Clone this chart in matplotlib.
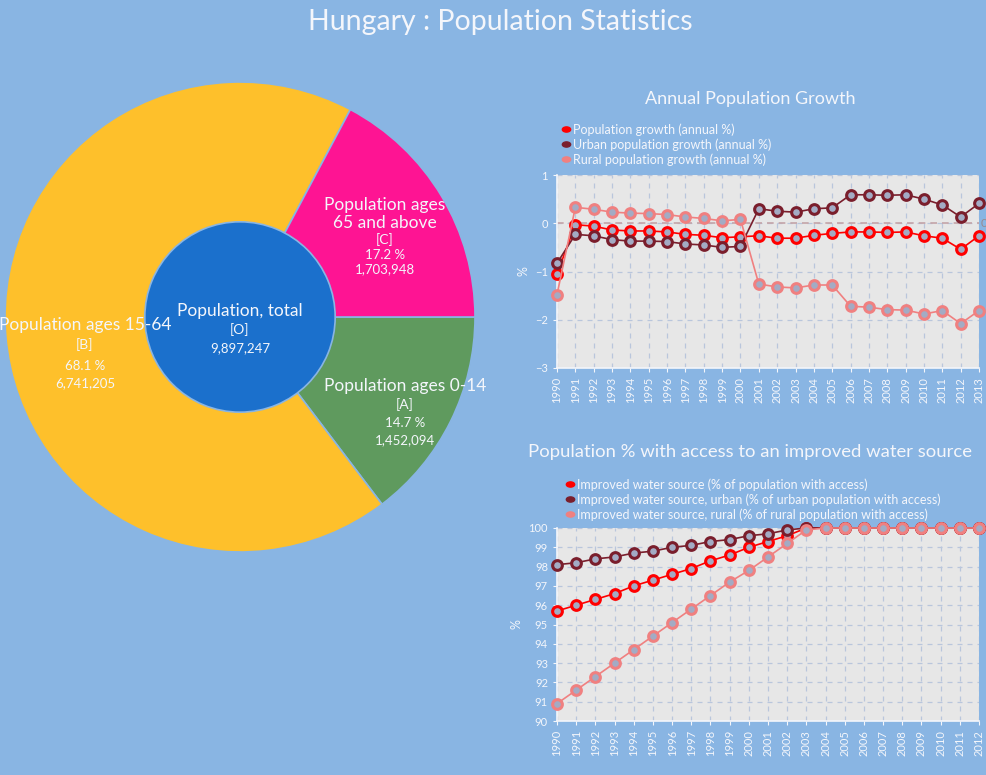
import numpy as np
import matplotlib
matplotlib.use("Agg")
import matplotlib.pyplot as plt
from matplotlib.path import Path
from matplotlib.transforms import Affine2D

plt.rcParams['font.family'] = ['Lato', 'DejaVu Sans']

BG = '#89b5e3'
WHITE = '#f4f6fb'

# --- pie data ---
pie_names = ['Population ages 0-14', 'Population ages 15-64', 'Population ages\n65 and above']
pie_codes = ['[A]', '[B]', '[C]']
pie_values = [1452094, 6741205, 1703948]
pie_colors = ['#5f9a5e', '#fec02b', '#fe1493']
total_name = 'Population, total'
total_value = 9897247

# --- annual growth ---
years_growth = list(range(1990, 2014))
pop_growth = [-1.05, -0.03, -0.06, -0.14, -0.16, -0.16, -0.18, -0.23, -0.25, -0.30, -0.28, -0.26,
              -0.31, -0.31, -0.25, -0.21, -0.18, -0.18, -0.19, -0.18, -0.26, -0.31, -0.54, -0.26]
urban_growth = [-0.83, -0.23, -0.26, -0.34, -0.37, -0.37, -0.38, -0.43, -0.45, -0.50, -0.48, 0.30,
                0.25, 0.23, 0.30, 0.32, 0.59, 0.59, 0.58, 0.59, 0.50, 0.38, 0.13, 0.41]
rural_growth = [-1.48, 0.33, 0.29, 0.23, 0.21, 0.20, 0.18, 0.13, 0.10, 0.05, 0.08, -1.26,
                -1.32, -1.34, -1.28, -1.28, -1.72, -1.74, -1.79, -1.80, -1.88, -1.81, -2.08, -1.81]

# --- water source ---
years_water = list(range(1990, 2013))
water_total = [95.7, 96.0, 96.3, 96.6, 97.0, 97.3, 97.6, 97.9, 98.3, 98.6, 99.0, 99.3,
               99.6, 100, 100, 100, 100, 100, 100, 100, 100, 100, 100]
water_urban = [98.1, 98.2, 98.4, 98.5, 98.7, 98.8, 99.0, 99.1, 99.3, 99.4, 99.6, 99.7,
               99.9, 100, 100, 100, 100, 100, 100, 100, 100, 100, 100]
water_rural = [90.9, 91.6, 92.3, 93.0, 93.7, 94.4, 95.1, 95.8, 96.5, 97.2, 97.8, 98.5,
               99.2, 99.9, 100, 100, 100, 100, 100, 100, 100, 100, 100]

line_colors = ['#ff0000', '#7a1e2c', '#f08080']
marker_face = '#a3abc4'

fig = plt.figure(figsize=(9.87, 7.75), dpi=100, facecolor=BG)
fig.text(0.507, 0.972, 'Hungary : Population Statistics', ha='center', va='center',
         fontsize=20.5, color=WHITE)

# ---------------- donut ----------------
axp = fig.add_axes([5 / 987, 1 - 552 / 775, 470 / 987, 470 / 775])
axp.axis('off')
wedges, _ = axp.pie(pie_values, colors=pie_colors, startangle=0, counterclock=False,
                    radius=1.0, wedgeprops=dict(edgecolor=BG, linewidth=1.2))
axp.pie([total_value], colors=['#1b70cc'], radius=0.405,
        wedgeprops=dict(edgecolor=BG, linewidth=1.2))
axp.set_xlim(-1, 1)
axp.set_ylim(-1, 1)
axp.set_aspect('equal')

# label anchor and offsets (title, code, pct, value) in axes data units
label_pos = [(0.702, -0.294), (-0.66, -0.034), (0.617, 0.438)]
label_offs = [(0.077, 0.158, 0.23), (0.085, 0.174, 0.246), (0.11, 0.174, 0.234)]
for name, code, v, (lx, ly), (o1, o2, o3) in zip(pie_names, pie_codes, pie_values,
                                                  label_pos, label_offs):
    pct = 100 * v / total_value
    axp.text(lx, ly, name, ha='center', va='center', fontsize=12.5, color=WHITE,
             linespacing=1.2, clip_on=False)
    axp.text(lx, ly - o1, code, ha='center', va='center', fontsize=10, color=WHITE)
    axp.text(lx, ly - o2, f'{pct:.1f} %', ha='center', va='center', fontsize=9.5, color=WHITE)
    axp.text(lx, ly - o3, f'{v:,}', ha='center', va='center', fontsize=9.5, color=WHITE)

axp.text(0, 0.026, total_name, ha='center', va='center', fontsize=12.5, color=WHITE)
axp.text(0, -0.055, '[O]', ha='center', va='center', fontsize=10, color=WHITE)
axp.text(0, -0.132, f'{total_value:,}', ha='center', va='center', fontsize=9.5, color=WHITE)

# ---------------- line charts ----------------
ell = Path.unit_circle().transformed(Affine2D().scale(1.6, 1.0))


def style_axes(ax):
    ax.set_facecolor('#e7e7e7')
    for s in ['top', 'right']:
        ax.spines[s].set_visible(False)
    for s in ['left', 'bottom']:
        ax.spines[s].set_color(WHITE)
        ax.spines[s].set_linewidth(1.2)
    ax.tick_params(colors=WHITE, labelsize=8, length=3, width=0.8)
    ax.grid(True, color='#b9c6dc', linestyle=(0, (4, 4)), linewidth=0.9)
    ax.set_axisbelow(True)
    ax.set_ylabel('%', color=WHITE, fontsize=9)


def draw_lines(ax, x, series):
    for ys, c in zip(series, line_colors):
        ax.plot(x, ys, color=c, linewidth=1.2, marker='o', markersize=7,
                markerfacecolor=marker_face, markeredgecolor=c, markeredgewidth=2.2,
                clip_on=False, zorder=3)
    return [plt.Line2D([], [], linestyle='none', marker=ell, markersize=6, color=c)
            for c in line_colors]


# Annual growth
ax1 = fig.add_axes([557 / 987, 1 - 368 / 775, 422 / 987, 193 / 775])
style_axes(ax1)
labels1 = ['Population growth (annual %)', 'Urban population growth (annual %)',
           'Rural population growth (annual %)']
ax1.axhline(0, color='#c4a4a8', linestyle=(0, (4, 3)), linewidth=1.2, zorder=2)
h1 = draw_lines(ax1, years_growth, [pop_growth, urban_growth, rural_growth])
ax1.set_xlim(1990, 2013)
ax1.set_ylim(-3, 1)
ax1.set_yticks([-3, -2, -1, 0, 1])
ax1.set_xticks(years_growth)
ax1.set_xticklabels([str(y) for y in years_growth], rotation=90)
ax1.text(1.004, 0, '0', transform=ax1.get_yaxis_transform(), ha='left', va='center',
         fontsize=8.5, color='#9a8a90')
fig.text(0.76, 1 - 99 / 775, 'Annual Population Growth', ha='center', va='center',
         fontsize=13, color=WHITE)
fig.legend(h1, labels1, loc='upper left', bbox_to_anchor=(562 / 987, 1 - 123 / 775),
           frameon=False, fontsize=9, labelcolor=WHITE, handlelength=0.6,
           handletextpad=0.3, labelspacing=0.2, borderpad=0, borderaxespad=0)

# Water source
ax2 = fig.add_axes([557 / 987, 1 - 721 / 775, 422 / 987, 193 / 775])
style_axes(ax2)
labels2 = ['Improved water source (% of population with access)',
           'Improved water source, urban (% of urban population with access)',
           'Improved water source, rural (% of rural population with access)']
h2 = draw_lines(ax2, years_water, [water_total, water_urban, water_rural])
ax2.set_xlim(1990, 2012)
ax2.set_ylim(90, 100)
ax2.set_yticks(range(90, 101))
ax2.set_xticks(years_water)
ax2.set_xticklabels([str(y) for y in years_water], rotation=90)
fig.text(0.76, 1 - 452 / 775, 'Population % with access to an improved water source',
         ha='center', va='center', fontsize=13.3, color=WHITE)
fig.legend(h2, labels2, loc='upper left', bbox_to_anchor=(566 / 987, 1 - 478 / 775),
           frameon=False, fontsize=9, labelcolor=WHITE, handlelength=0.6,
           handletextpad=0.3, labelspacing=0.2, borderpad=0, borderaxespad=0)

fig.savefig('out.png', dpi=100, facecolor=BG)
